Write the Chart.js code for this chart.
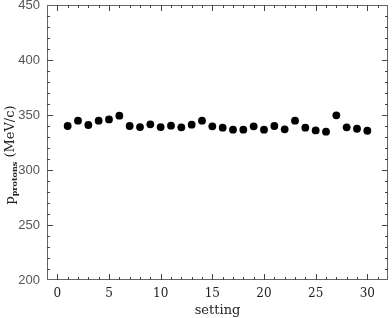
<!DOCTYPE html>
<html>
<head>
<meta charset="utf-8">
<script src="https://cdn.jsdelivr.net/npm/chart.js@4.4.0/dist/chart.umd.min.js"></script>
<style>
  html, body { margin: 0; padding: 0; background: #fff; }
</style>
</head>
<body>
<canvas id="momentumChart" width="392" height="318"></canvas>
<script>
// Data
const settings = [1, 2, 3, 4, 5, 6, 7, 8, 9, 10, 11, 12, 13, 14, 15,
                  16, 17, 18, 19, 20, 21, 22, 23, 24, 25, 26, 27, 28, 29, 30];
const momentum = [340, 344.8, 340.9, 344.8, 346, 349.4, 340, 339, 341.5, 339,
                  340.3, 338.8, 341.2, 344.8, 339.7, 338.5, 336.7, 336.7, 339.7, 336.7,
                  340, 337, 344.8, 338.5, 336, 334.8, 349.7, 338.8, 337.5, 335.7];
const xTicks = [0, 5, 10, 15, 20, 25, 30];
const yTicks = [200, 250, 300, 350, 400, 450];

// Frame with inward major/minor ticks on all four sides, plus the y title
const frameTicks = {
    id: 'frameTicks',
    afterDraw(chart) {
        const ctx = chart.ctx;
        const a = chart.chartArea;
        const x = chart.scales.x;
        const y = chart.scales.y;

        ctx.save();
        ctx.strokeStyle = '#666';
        ctx.lineWidth = 1;
        ctx.strokeRect(a.left + 0.5, a.top + 0.5, a.width - 1, a.height - 1);

        ctx.strokeStyle = '#444';
        ctx.beginPath();
        for (let v = x.min + 1; v < x.max; v++) {
            const px = Math.round(x.getPixelForValue(v)) + 0.5;
            const len = v % 5 === 0 ? 6 : 3;
            ctx.moveTo(px, a.bottom);
            ctx.lineTo(px, a.bottom - len);
            ctx.moveTo(px, a.top);
            ctx.lineTo(px, a.top + len);
        }
        for (let v = y.min + 10; v < y.max; v += 10) {
            const py = Math.round(y.getPixelForValue(v)) + 0.5;
            const len = v % 50 === 0 ? 6 : 3;
            ctx.moveTo(a.left, py);
            ctx.lineTo(a.left + len, py);
            ctx.moveTo(a.right, py);
            ctx.lineTo(a.right - len, py);
        }
        ctx.stroke();

        // y axis title: p with "protons" subscript, then (MeV/c)
        const mainFont = '13px "DejaVu Serif"';
        const subFont = 'bold 8px "DejaVu Serif"';
        ctx.font = mainFont;
        const wP = ctx.measureText('p').width;
        const wUnit = ctx.measureText(' (MeV/c)').width;
        ctx.font = subFont;
        const wSub = ctx.measureText('protons').width;
        const total = wP + wSub + wUnit;

        ctx.translate(14, 155);
        ctx.rotate(-Math.PI / 2);
        ctx.fillStyle = '#222';
        ctx.textBaseline = 'alphabetic';
        ctx.textAlign = 'left';
        let cx = -total / 2;
        ctx.font = mainFont;
        ctx.fillText('p', cx, 0);
        cx += wP;
        ctx.font = subFont;
        ctx.fillText('protons', cx, 3);
        cx += wSub;
        ctx.font = mainFont;
        ctx.fillText(' (MeV/c)', cx, 0);
        ctx.restore();
    }
};

const ctx = document.getElementById('momentumChart').getContext('2d');

new Chart(ctx, {
    type: 'scatter',
    data: {
        datasets: [{
            data: settings.map((s, i) => ({ x: s, y: momentum[i] })),
            backgroundColor: '#000',
            borderWidth: 0,
            pointRadius: 3.9
        }]
    },
    options: {
        responsive: false,
        animation: false,
        layout: { padding: { top: 5, right: 1, left: 0, bottom: 0 } },
        plugins: {
            legend: { display: false },
            tooltip: { enabled: false }
        },
        scales: {
            x: {
                type: 'linear',
                min: -1,
                max: 32,
                grid: { display: false, drawTicks: false },
                border: { display: false },
                afterBuildTicks: function(scale) {
                    scale.ticks = xTicks.map(v => ({ value: v }));
                },
                afterFit: function(scale) {
                    scale.height = 38;
                    scale.paddingLeft = 0;
                    scale.paddingRight = 0;
                },
                ticks: {
                    padding: 7,
                    color: '#222',
                    font: { family: 'DejaVu Serif', size: 12 }
                },
                title: {
                    display: true,
                    text: 'setting',
                    color: '#222',
                    font: { family: 'DejaVu Serif', size: 13 },
                    padding: { top: 0, bottom: 0 }
                }
            },
            y: {
                min: 200,
                max: 450,
                grid: { display: false, drawTicks: false },
                border: { display: false },
                afterBuildTicks: function(scale) {
                    scale.ticks = yTicks.map(v => ({ value: v }));
                },
                afterFit: function(scale) {
                    scale.width = 47;
                    scale.paddingTop = 0;
                    scale.paddingBottom = 0;
                },
                ticks: {
                    padding: 7,
                    color: '#555',
                    font: { family: 'Liberation Sans', size: 13 }
                }
            }
        }
    },
    plugins: [frameTicks]
});
</script>
</body>
</html>
